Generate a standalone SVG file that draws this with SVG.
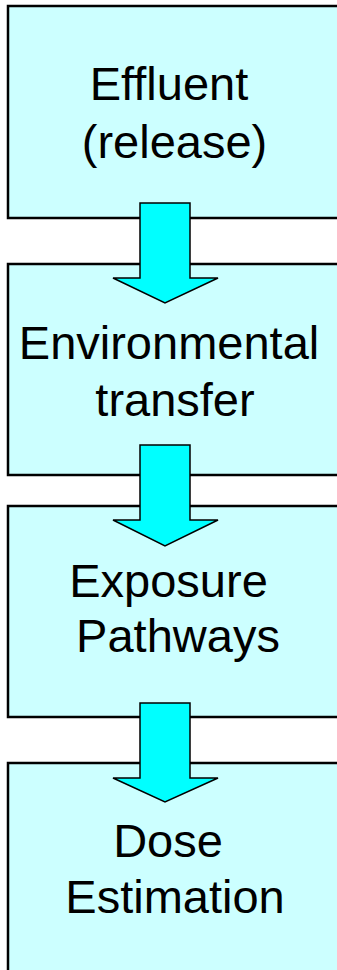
<svg xmlns="http://www.w3.org/2000/svg" width="337" height="970" viewBox="0 0 337 970">
  <style>
    .box { fill: #CCFFFF; stroke: #000000; stroke-width: 2.5; }
    .label { font-family: "Liberation Sans", Arial, sans-serif; font-size: 47px; fill: #000000; text-anchor: middle; }
    .arrow { fill: #00FFFF; stroke: #000000; stroke-width: 1.5; stroke-linejoin: miter; }
  </style>
  <rect x="0" y="0" width="337" height="970" fill="#FFFFFF"/>

  <g id="node-effluent">
    <rect class="box" x="8" y="6" width="345" height="212"/>
    <text class="label" x="169" y="100">Effluent</text>
    <text class="label" x="174.5" y="158">(release)</text>
  </g>

  <g id="node-environmental-transfer">
    <rect class="box" x="8" y="264" width="345" height="211"/>
    <text class="label" x="169" y="359">Environmental</text>
    <text class="label" x="175" y="416">transfer</text>
  </g>

  <g id="node-exposure-pathways">
    <rect class="box" x="8" y="506" width="345" height="211"/>
    <text class="label" x="168.5" y="597">Exposure</text>
    <text class="label" x="178" y="652">Pathways</text>
  </g>

  <g id="node-dose-estimation">
    <rect class="box" x="8" y="763" width="345" height="230"/>
    <text class="label" x="168" y="857">Dose</text>
    <text class="label" x="175" y="913">Estimation</text>
  </g>

  <g id="connectors">
    <polygon class="arrow" points="140,203 190,203 190,278 218,278 165,303 113,278 140,278"/>
    <polygon class="arrow" points="140,445 190,445 190,520 218,520 165,546 113,520 140,520"/>
    <polygon class="arrow" points="140,703 190,703 190,778 218,778 165,802 113,778 140,778"/>
  </g>
</svg>
